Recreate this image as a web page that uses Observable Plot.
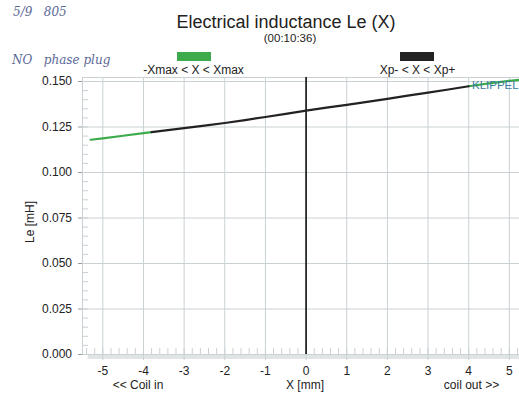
<!DOCTYPE html>
<html>
<head>
<meta charset="utf-8">
<script src="https://cdn.jsdelivr.net/npm/d3@7"></script>
<script src="https://cdn.jsdelivr.net/npm/@observablehq/plot@0.6"></script>
<style>
  html, body { margin: 0; padding: 0; background: #fff; overflow: hidden; }
  #wrap { position: relative; width: 519px; height: 395px; overflow: hidden; font-family: "Liberation Sans", Arial, sans-serif; color: #222; }
  #wrap svg { position: absolute; left: 0; top: 0; }
  .t { position: absolute; white-space: pre; line-height: 1; }
  .hand { font-family: "DejaVu Serif", serif; font-style: italic; color: #5a6896; font-size: 12px; font-weight: 300; }
  .sw { position: absolute; width: 34px; height: 9px; }
</style>
</head>
<body>
<div id="wrap"></div>
<script>
// ---- data ----
const xPos = [-5.3, -5.0, -4.5, -4.0, -3.8, -3.5, -3.0, -2.5, -2.0, -1.5, -1.0, -0.5, 0.0, 0.5, 1.0, 1.5, 2.0, 2.5, 3.0, 3.5, 4.0, 4.5, 5.0, 5.25];
const leValues = [0.1180, 0.1188, 0.1202, 0.1216, 0.1222, 0.1230, 0.1244, 0.1258, 0.1272, 0.1288, 0.1305, 0.1322, 0.1340, 0.1356, 0.1372, 0.1388, 0.1405, 0.1422, 0.1439, 0.1456, 0.1474, 0.1490, 0.1503, 0.1509];
// which range each point belongs to (g = green, -Xmax < X < Xmax; b = black, Xp- < X < Xp+)
const rangeOf = ["g1","g1","g1","g1","g1","b","b","b","b","b","b","b","b","b","b","b","b","b","b","b","b","g2","g2","g2"];
const xTicks = [-5, -4, -3, -2, -1, 0, 1, 2, 3, 4, 5];
const yTicks = [0, 0.025, 0.05, 0.075, 0.1, 0.125, 0.15];
const xMinorTicks = d3.range(-27, 27).map(i => i / 5);
const yMinorTicks = d3.range(0, 31).map(i => i / 200);
const legendLabels = ["-Xmax < X < Xmax", "Xp- < X < Xp+"];
const titleText = "Electrical inductance Le (X)";
const subtitleText = "(00:10:36)";

// build rows, duplicating boundary points so segments connect
const rows = [];
for (let i = 0; i < xPos.length; i++) {
  if (i > 0 && rangeOf[i] !== rangeOf[i - 1]) {
    rows.push({ x: xPos[i - 1], y: leValues[i - 1], seg: rangeOf[i] });
  }
  rows.push({ x: xPos[i], y: leValues[i], seg: rangeOf[i] });
}
const green = "#3dab4c", black = "#222222", gridColor = "#c9d1d4";

const chart = Plot.plot({
  width: 519, height: 395,
  marginLeft: 82, marginRight: 0, marginTop: 77, marginBottom: 41,
  x: { domain: [-5.5, 5.25] },
  y: { domain: [0, 0.1522] },
  style: { fontFamily: "'Liberation Sans', Arial, sans-serif", fontSize: "12px", background: "transparent", overflow: "visible" },
  marks: [
    Plot.gridX(xTicks, { stroke: gridColor, strokeOpacity: 1 }),
    Plot.gridY(yTicks, { stroke: gridColor, strokeOpacity: 1 }),
    Plot.frame({ stroke: gridColor }),
    Plot.ruleY([0], { x1: -5.36, x2: 5.25, stroke: "#e1e4e4", strokeWidth: 4, dy: 2.5 }),
    Plot.axisX(xMinorTicks, { anchor: "bottom", tickSize: -6, tickFormat: () => "", stroke: gridColor, label: null }),
    Plot.axisY(yMinorTicks, { anchor: "left", tickSize: -6, tickFormat: () => "", stroke: gridColor, label: null }),
    Plot.axisX(xTicks, { anchor: "bottom", tickSize: 6, tickPadding: 5.5, stroke: gridColor, fill: "#222", label: null, tickFormat: d => String(d) }),
    Plot.axisY(yTicks, { anchor: "left", tickSize: 4, tickPadding: 6.5, stroke: "#999", fill: "#222", label: null, tickFormat: d3.format(".3f") }),
    Plot.ruleX([0], { stroke: "#111", strokeWidth: 1.6 }),
    Plot.line(rows.filter(d => d.seg !== "b"), { x: "x", y: "y", z: "seg", stroke: green, strokeWidth: 2.2 }),
    Plot.line(rows.filter(d => d.seg === "b"), { x: "x", y: "y", stroke: black, strokeWidth: 2.2 })
  ]
});

const wrap = document.getElementById("wrap");
wrap.appendChild(chart);

function addText(txt, cls, css) {
  const d = document.createElement("div");
  d.className = "t " + (cls || "");
  d.textContent = txt;
  Object.assign(d.style, css);
  wrap.appendChild(d);
  return d;
}
function centered(txt, cx, top, size, extra) {
  const d = addText(txt, "", Object.assign({ top: top + "px", fontSize: size + "px", left: "0px" }, extra || {}));
  const w = d.getBoundingClientRect().width;
  d.style.left = (cx - w / 2) + "px";
  return d;
}

// title and subtitle
centered(titleText, 286, 13, 18);
centered(subtitleText, 290, 33, 11.5);

// legend
const sw1 = document.createElement("div"); sw1.className = "sw";
Object.assign(sw1.style, { left: "177px", top: "52px", background: green }); wrap.appendChild(sw1);
const sw2 = document.createElement("div"); sw2.className = "sw";
Object.assign(sw2.style, { left: "400px", top: "52px", background: black }); wrap.appendChild(sw2);
centered(legendLabels[0], 193.5, 64, 12);
centered(legendLabels[1], 417.5, 64, 12);

// axis labels
const yl = addText("Le [mH]", "", { fontSize: "12px", left: "0px", top: "0px" });
const yw = yl.getBoundingClientRect().width;
Object.assign(yl.style, { left: (30 - yw / 2) + "px", top: (222 - 6) + "px", transform: "rotate(-90deg)", transformOrigin: "50% 50%" });
centered("X [mm]", 305, 378.5, 12);
centered("<< Coil in", 138, 378.5, 12);
centered("coil out >>", 471.5, 378.5, 12);

// watermark
addText("KLIPPEL", "", { left: "472px", top: "80px", fontSize: "11.5px", color: "#3b7d9c" });

// handwritten annotations
addText("5/9   805", "hand", { left: "13px", top: "6px" });
addText("NO   phase plug", "hand", { left: "12px", top: "54px" });
</script>
</body>
</html>
